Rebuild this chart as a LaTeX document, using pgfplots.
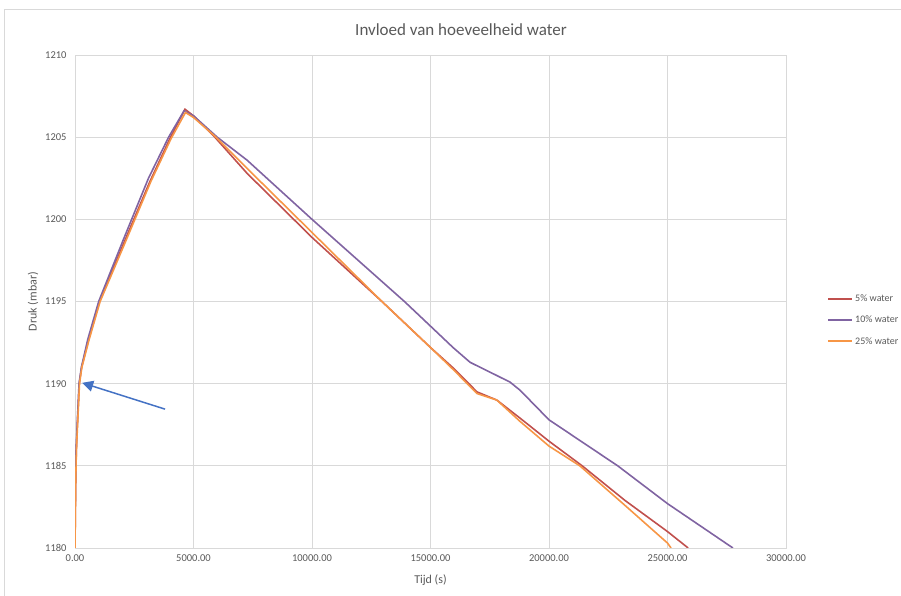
\documentclass[border=0pt]{standalone}
\usepackage{fontspec}
\setmainfont{Carlito}
\usepackage{pgfplots}
\pgfplotsset{compat=1.18}
\usetikzlibrary{arrows.meta}

\definecolor{cfive}{HTML}{C0504D}
\definecolor{cten}{HTML}{8064A2}
\definecolor{ctwfive}{HTML}{F79646}
\definecolor{gridc}{HTML}{D9D9D9}
\definecolor{txt}{HTML}{595959}
\definecolor{arrowc}{HTML}{4472C4}

\begin{document}
\begin{tikzpicture}[x=1pt,y=1pt]
\useasboundingbox (0,0) rectangle (901,596);
% chart frame (left and top edges visible)
\draw[gridc, line width=0.8pt] (4,0) -- (4,587) -- (901,587);
\node[text=txt, font=\fontsize{17}{20}\selectfont] at (461,566) {Invloed van hoeveelheid water};

\begin{axis}[
  at={(75pt,48pt)}, anchor=south west,
  scale only axis, width=711pt, height=493pt,
  xmin=0, xmax=30000, ymin=1180, ymax=1210,
  xtick={0,5000,...,30000}, ytick={1180,1185,...,1210},
  grid=major, grid style={gridc, line width=0.8pt},
  axis line style={gridc, line width=0.8pt},
  tick style={draw=none},
  /pgf/number format/assume math mode=true,
  xticklabel style={/pgf/number format/fixed, /pgf/number format/fixed zerofill,
    /pgf/number format/precision=2, /pgf/number format/1000 sep={}, yshift=-3pt},
  yticklabel style={/pgf/number format/1000 sep={}, xshift=-5pt},
  scaled x ticks=false,
  ticklabel style={text=txt, font=\fontsize{10.5}{12}\selectfont},
  xlabel={Tijd (s)}, ylabel={Druk (mbar)},
  label style={text=txt, font=\fontsize{12}{14}\selectfont},
  xlabel style={at={(axis description cs:0.5,-0.065)}, anchor=center},
  ylabel style={at={(axis description cs:-0.059,0.5)}, anchor=center},
  legend style={at={(axis description cs:1.058,0.462)}, anchor=west,
    draw=none, fill=none, inner xsep=0pt, text=txt,
    font=\fontsize{10}{12}\selectfont, row sep=9pt},
  legend cell align=left,
  legend image code/.code={\draw[#1, line width=1.8pt] (0pt,0.3pt) -- (24pt,0.3pt);},
  clip=true,
]
\addplot[cfive, line width=1.6pt] coordinates {
 (0,1180) (20,1183) (40,1185) (70,1186.6) (180,1190) (280,1191) (560,1192.6)
 (1030,1195) (2100,1198.7) (3160,1202.3) (4000,1204.9) (4640,1206.7)
 (5000,1206.3) (5900,1205) (7260,1202.8) (10000,1198.9) (12950,1195)
 (15000,1192.2) (16000,1190.9) (16960,1189.5) (17800,1189.0) (18780,1187.9)
 (20000,1186.5) (21400,1185) (23200,1182.9) (25000,1181.0) (25870,1180)
};
\addlegendentry{5\% water}
\addplot[cten, line width=1.6pt] coordinates {
 (0,1180) (10,1183) (30,1185.5) (170,1190) (270,1191) (540,1192.7)
 (1000,1195) (2050,1198.8) (3100,1202.5) (3950,1205) (4600,1206.6)
 (5000,1206.3) (6000,1205) (7260,1203.6) (10000,1200.0) (13900,1195)
 (15000,1193.5) (15950,1192.2) (16670,1191.3) (17930,1190.4) (18350,1190.1)
 (18780,1189.6) (20000,1187.8) (22900,1185) (25000,1182.7) (27760,1180)
};
\addlegendentry{10\% water}
\addplot[ctwfive, line width=1.6pt] coordinates {
 (0,1180) (30,1184) (60,1186) (190,1190) (290,1191) (580,1192.6)
 (1060,1195) (2150,1198.7) (3200,1202.3) (4050,1204.9) (4660,1206.5)
 (5000,1206.2) (5950,1205) (7260,1203.1) (10000,1199.2) (12950,1195)
 (15000,1192.2) (16000,1190.8) (16960,1189.4) (17800,1189.0) (18780,1187.7)
 (20000,1186.2) (21300,1185) (23200,1182.6) (25000,1180.3) (25150,1180)
};
\addlegendentry{25\% water}
\draw[arrowc, line width=1.5pt, -{Triangle[length=11pt,width=11pt]}]
  (axis cs:3800,1188.45) -- (axis cs:300,1190.05);
\end{axis}
\end{tikzpicture}
\end{document}
